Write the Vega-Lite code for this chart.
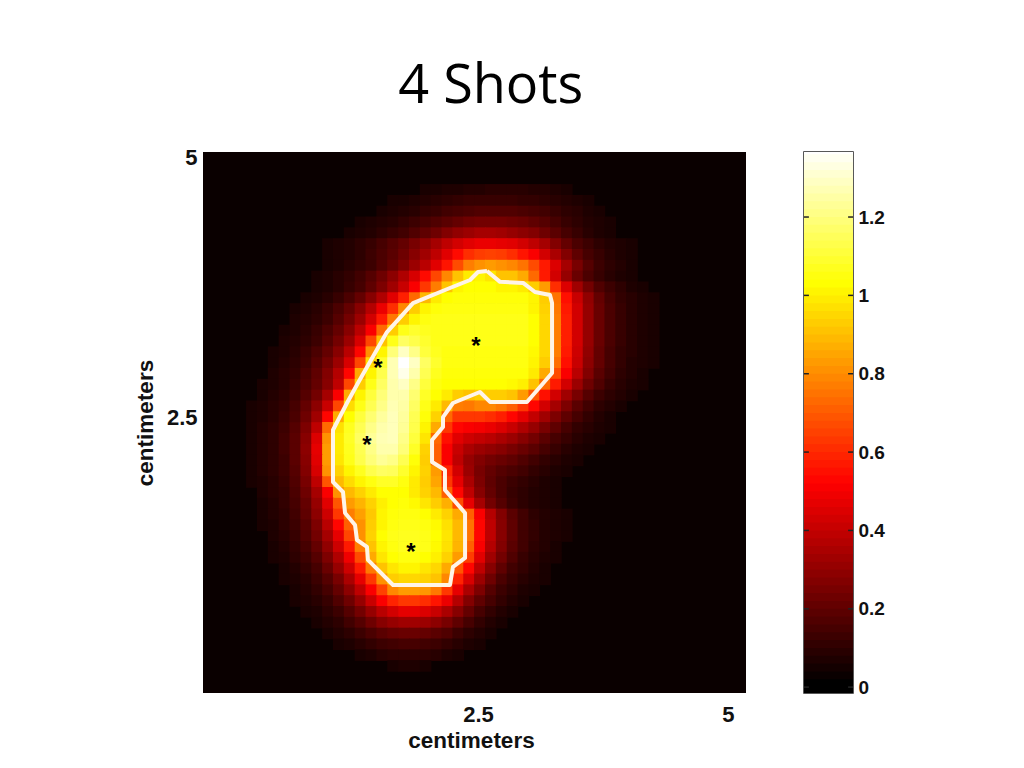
{"$schema":"https://vega.github.io/schema/vega-lite/v6.json","background":"white","padding":{"left":134,"top":59,"right":0,"bottom":0},"title":{"text":"4 Shots","font":"Open Sans","fontSize":54,"fontWeight":"normal","color":"#000","anchor":"middle","offset":33,"dx":-19},"spacing":56,"config":{"view":{"stroke":null}},"hconcat":[{"width":543,"height":541,"view":{"fill":"#0a0000","stroke":null},"encoding":{"x":{"field":"c","type":"quantitative","scale":{"domain":[-0.5,49.5],"nice":false,"zero":false},"axis":{"values":[24.82,47.84],"labelExpr":"datum.value<30?'2.5':'5'","title":"centimeters","grid":false,"domain":false,"ticks":false,"labelFont":"Liberation Sans","labelFontWeight":"bold","labelFontSize":22,"labelColor":"#111","labelPadding":11,"titleFont":"Liberation Sans","titleFontWeight":"bold","titleFontSize":22.5,"titleColor":"#111","titlePadding":4,"titleX":268}},"y":{"field":"r","type":"quantitative","scale":{"domain":[49.5,-0.5],"nice":false,"zero":false},"axis":{"values":[0.05,24],"labelExpr":"datum.value<10?'5':'2.5'","title":"centimeters","grid":false,"domain":false,"ticks":false,"labelFont":"Liberation Sans","labelFontWeight":"bold","labelFontSize":22,"labelColor":"#111","labelPadding":6,"titleFont":"Liberation Sans","titleFontWeight":"bold","titleFontSize":22.5,"titleColor":"#111","titlePadding":9}}},"layer":[{"data":{"values":[
{"c":20,"r":3,"v":0.05},{"c":21,"r":3,"v":0.05},{"c":22,"r":3,"v":0.06},{"c":23,"r":3,"v":0.06},{"c":24,"r":3,"v":0.07},{"c":25,"r":3,"v":0.07},{"c":26,"r":3,"v":0.08},{"c":27,"r":3,"v":0.08},{"c":28,"r":3,"v":0.08},{"c":29,"r":3,"v":0.08},{"c":30,"r":3,"v":0.07},{"c":31,"r":3,"v":0.07},{"c":32,"r":3,"v":0.06},{"c":33,"r":3,"v":0.05},
{"c":17,"r":4,"v":0.05},{"c":18,"r":4,"v":0.05},{"c":19,"r":4,"v":0.06},{"c":20,"r":4,"v":0.07},{"c":21,"r":4,"v":0.08},{"c":22,"r":4,"v":0.09},{"c":23,"r":4,"v":0.1},{"c":24,"r":4,"v":0.11},{"c":25,"r":4,"v":0.11},{"c":26,"r":4,"v":0.11},{"c":27,"r":4,"v":0.11},{"c":28,"r":4,"v":0.11},{"c":29,"r":4,"v":0.1},{"c":30,"r":4,"v":0.1},{"c":31,"r":4,"v":0.09},{"c":32,"r":4,"v":0.08},{"c":33,"r":4,"v":0.07},{"c":34,"r":4,"v":0.06},{"c":35,"r":4,"v":0.05},
{"c":16,"r":5,"v":0.05},{"c":17,"r":5,"v":0.06},{"c":18,"r":5,"v":0.07},{"c":19,"r":5,"v":0.08},{"c":20,"r":5,"v":0.1},{"c":21,"r":5,"v":0.11},{"c":22,"r":5,"v":0.13},{"c":23,"r":5,"v":0.14},{"c":24,"r":5,"v":0.15},{"c":25,"r":5,"v":0.16},{"c":26,"r":5,"v":0.16},{"c":27,"r":5,"v":0.16},{"c":28,"r":5,"v":0.16},{"c":29,"r":5,"v":0.15},{"c":30,"r":5,"v":0.14},{"c":31,"r":5,"v":0.13},{"c":32,"r":5,"v":0.11},{"c":33,"r":5,"v":0.09},{"c":34,"r":5,"v":0.08},{"c":35,"r":5,"v":0.06},{"c":36,"r":5,"v":0.05},
{"c":14,"r":6,"v":0.05},{"c":15,"r":6,"v":0.06},{"c":16,"r":6,"v":0.07},{"c":17,"r":6,"v":0.08},{"c":18,"r":6,"v":0.1},{"c":19,"r":6,"v":0.12},{"c":20,"r":6,"v":0.14},{"c":21,"r":6,"v":0.16},{"c":22,"r":6,"v":0.18},{"c":23,"r":6,"v":0.2},{"c":24,"r":6,"v":0.22},{"c":25,"r":6,"v":0.23},{"c":26,"r":6,"v":0.23},{"c":27,"r":6,"v":0.23},{"c":28,"r":6,"v":0.22},{"c":29,"r":6,"v":0.21},{"c":30,"r":6,"v":0.19},{"c":31,"r":6,"v":0.17},{"c":32,"r":6,"v":0.14},{"c":33,"r":6,"v":0.11},{"c":34,"r":6,"v":0.09},{"c":35,"r":6,"v":0.07},{"c":36,"r":6,"v":0.06},{"c":37,"r":6,"v":0.05},
{"c":13,"r":7,"v":0.05},{"c":14,"r":7,"v":0.06},{"c":15,"r":7,"v":0.07},{"c":16,"r":7,"v":0.09},{"c":17,"r":7,"v":0.11},{"c":18,"r":7,"v":0.13},{"c":19,"r":7,"v":0.16},{"c":20,"r":7,"v":0.19},{"c":21,"r":7,"v":0.22},{"c":22,"r":7,"v":0.26},{"c":23,"r":7,"v":0.29},{"c":24,"r":7,"v":0.31},{"c":25,"r":7,"v":0.33},{"c":26,"r":7,"v":0.33},{"c":27,"r":7,"v":0.32},{"c":28,"r":7,"v":0.3},{"c":29,"r":7,"v":0.28},{"c":30,"r":7,"v":0.26},{"c":31,"r":7,"v":0.22},{"c":32,"r":7,"v":0.18},{"c":33,"r":7,"v":0.14},{"c":34,"r":7,"v":0.11},{"c":35,"r":7,"v":0.08},{"c":36,"r":7,"v":0.06},{"c":37,"r":7,"v":0.05},
{"c":11,"r":8,"v":0.05},{"c":12,"r":8,"v":0.06},{"c":13,"r":8,"v":0.07},{"c":14,"r":8,"v":0.09},{"c":15,"r":8,"v":0.11},{"c":16,"r":8,"v":0.14},{"c":17,"r":8,"v":0.17},{"c":18,"r":8,"v":0.2},{"c":19,"r":8,"v":0.24},{"c":20,"r":8,"v":0.28},{"c":21,"r":8,"v":0.33},{"c":22,"r":8,"v":0.38},{"c":23,"r":8,"v":0.42},{"c":24,"r":8,"v":0.45},{"c":25,"r":8,"v":0.47},{"c":26,"r":8,"v":0.47},{"c":27,"r":8,"v":0.46},{"c":28,"r":8,"v":0.45},{"c":29,"r":8,"v":0.42},{"c":30,"r":8,"v":0.38},{"c":31,"r":8,"v":0.33},{"c":32,"r":8,"v":0.26},{"c":33,"r":8,"v":0.2},{"c":34,"r":8,"v":0.15},{"c":35,"r":8,"v":0.12},{"c":36,"r":8,"v":0.09},{"c":37,"r":8,"v":0.07},{"c":38,"r":8,"v":0.06},{"c":39,"r":8,"v":0.05},
{"c":11,"r":9,"v":0.05},{"c":12,"r":9,"v":0.06},{"c":13,"r":9,"v":0.07},{"c":14,"r":9,"v":0.09},{"c":15,"r":9,"v":0.12},{"c":16,"r":9,"v":0.15},{"c":17,"r":9,"v":0.18},{"c":18,"r":9,"v":0.22},{"c":19,"r":9,"v":0.27},{"c":20,"r":9,"v":0.32},{"c":21,"r":9,"v":0.38},{"c":22,"r":9,"v":0.45},{"c":23,"r":9,"v":0.53},{"c":24,"r":9,"v":0.6},{"c":25,"r":9,"v":0.63},{"c":26,"r":9,"v":0.64},{"c":27,"r":9,"v":0.63},{"c":28,"r":9,"v":0.6},{"c":29,"r":9,"v":0.55},{"c":30,"r":9,"v":0.5},{"c":31,"r":9,"v":0.42},{"c":32,"r":9,"v":0.34},{"c":33,"r":9,"v":0.26},{"c":34,"r":9,"v":0.19},{"c":35,"r":9,"v":0.14},{"c":36,"r":9,"v":0.11},{"c":37,"r":9,"v":0.08},{"c":38,"r":9,"v":0.06},{"c":39,"r":9,"v":0.05},
{"c":11,"r":10,"v":0.05},{"c":12,"r":10,"v":0.06},{"c":13,"r":10,"v":0.08},{"c":14,"r":10,"v":0.1},{"c":15,"r":10,"v":0.12},{"c":16,"r":10,"v":0.16},{"c":17,"r":10,"v":0.2},{"c":18,"r":10,"v":0.25},{"c":19,"r":10,"v":0.31},{"c":20,"r":10,"v":0.37},{"c":21,"r":10,"v":0.45},{"c":22,"r":10,"v":0.55},{"c":23,"r":10,"v":0.66},{"c":24,"r":10,"v":0.76},{"c":25,"r":10,"v":0.8},{"c":26,"r":10,"v":0.82},{"c":27,"r":10,"v":0.8},{"c":28,"r":10,"v":0.78},{"c":29,"r":10,"v":0.74},{"c":30,"r":10,"v":0.66},{"c":31,"r":10,"v":0.56},{"c":32,"r":10,"v":0.44},{"c":33,"r":10,"v":0.33},{"c":34,"r":10,"v":0.24},{"c":35,"r":10,"v":0.17},{"c":36,"r":10,"v":0.12},{"c":37,"r":10,"v":0.09},{"c":38,"r":10,"v":0.07},{"c":39,"r":10,"v":0.05},
{"c":10,"r":11,"v":0.05},{"c":11,"r":11,"v":0.06},{"c":12,"r":11,"v":0.08},{"c":13,"r":11,"v":0.1},{"c":14,"r":11,"v":0.13},{"c":15,"r":11,"v":0.17},{"c":16,"r":11,"v":0.22},{"c":17,"r":11,"v":0.28},{"c":18,"r":11,"v":0.35},{"c":19,"r":11,"v":0.43},{"c":20,"r":11,"v":0.53},{"c":21,"r":11,"v":0.65},{"c":22,"r":11,"v":0.78},{"c":23,"r":11,"v":0.9},{"c":24,"r":11,"v":0.98},{"c":25,"r":11,"v":1},{"c":26,"r":11,"v":0.97},{"c":27,"r":11,"v":0.9},{"c":28,"r":11,"v":0.9},{"c":29,"r":11,"v":0.85},{"c":30,"r":11,"v":0.72},{"c":31,"r":11,"v":0.56},{"c":32,"r":11,"v":0.42},{"c":33,"r":11,"v":0.3},{"c":34,"r":11,"v":0.21},{"c":35,"r":11,"v":0.15},{"c":36,"r":11,"v":0.11},{"c":37,"r":11,"v":0.08},{"c":38,"r":11,"v":0.06},{"c":39,"r":11,"v":0.05},
{"c":10,"r":12,"v":0.05},{"c":11,"r":12,"v":0.06},{"c":12,"r":12,"v":0.08},{"c":13,"r":12,"v":0.11},{"c":14,"r":12,"v":0.14},{"c":15,"r":12,"v":0.19},{"c":16,"r":12,"v":0.25},{"c":17,"r":12,"v":0.32},{"c":18,"r":12,"v":0.4},{"c":19,"r":12,"v":0.5},{"c":20,"r":12,"v":0.62},{"c":21,"r":12,"v":0.76},{"c":22,"r":12,"v":0.9},{"c":23,"r":12,"v":1},{"c":24,"r":12,"v":1.02},{"c":25,"r":12,"v":1.02},{"c":26,"r":12,"v":1.02},{"c":27,"r":12,"v":1},{"c":28,"r":12,"v":1},{"c":29,"r":12,"v":0.98},{"c":30,"r":12,"v":0.92},{"c":31,"r":12,"v":0.82},{"c":32,"r":12,"v":0.6},{"c":33,"r":12,"v":0.44},{"c":34,"r":12,"v":0.32},{"c":35,"r":12,"v":0.23},{"c":36,"r":12,"v":0.16},{"c":37,"r":12,"v":0.12},{"c":38,"r":12,"v":0.09},{"c":39,"r":12,"v":0.06},{"c":40,"r":12,"v":0.05},
{"c":9,"r":13,"v":0.05},{"c":10,"r":13,"v":0.06},{"c":11,"r":13,"v":0.08},{"c":12,"r":13,"v":0.11},{"c":13,"r":13,"v":0.15},{"c":14,"r":13,"v":0.2},{"c":15,"r":13,"v":0.27},{"c":16,"r":13,"v":0.35},{"c":17,"r":13,"v":0.45},{"c":18,"r":13,"v":0.57},{"c":19,"r":13,"v":0.72},{"c":20,"r":13,"v":0.88},{"c":21,"r":13,"v":0.98},{"c":22,"r":13,"v":1.02},{"c":23,"r":13,"v":1.03},{"c":24,"r":13,"v":1.03},{"c":25,"r":13,"v":1.03},{"c":26,"r":13,"v":1.03},{"c":27,"r":13,"v":1.03},{"c":28,"r":13,"v":1.03},{"c":29,"r":13,"v":1.03},{"c":30,"r":13,"v":1},{"c":31,"r":13,"v":0.92},{"c":32,"r":13,"v":0.74},{"c":33,"r":13,"v":0.54},{"c":34,"r":13,"v":0.4},{"c":35,"r":13,"v":0.29},{"c":36,"r":13,"v":0.2},{"c":37,"r":13,"v":0.14},{"c":38,"r":13,"v":0.1},{"c":39,"r":13,"v":0.08},{"c":40,"r":13,"v":0.06},{"c":41,"r":13,"v":0.05},
{"c":8,"r":14,"v":0.05},{"c":9,"r":14,"v":0.06},{"c":10,"r":14,"v":0.08},{"c":11,"r":14,"v":0.11},{"c":12,"r":14,"v":0.15},{"c":13,"r":14,"v":0.2},{"c":14,"r":14,"v":0.27},{"c":15,"r":14,"v":0.36},{"c":16,"r":14,"v":0.47},{"c":17,"r":14,"v":0.6},{"c":18,"r":14,"v":0.78},{"c":19,"r":14,"v":0.92},{"c":20,"r":14,"v":1},{"c":21,"r":14,"v":1.03},{"c":22,"r":14,"v":1.04},{"c":23,"r":14,"v":1.04},{"c":24,"r":14,"v":1.04},{"c":25,"r":14,"v":1.04},{"c":26,"r":14,"v":1.04},{"c":27,"r":14,"v":1.04},{"c":28,"r":14,"v":1.04},{"c":29,"r":14,"v":1.04},{"c":30,"r":14,"v":1},{"c":31,"r":14,"v":0.93},{"c":32,"r":14,"v":0.75},{"c":33,"r":14,"v":0.56},{"c":34,"r":14,"v":0.42},{"c":35,"r":14,"v":0.3},{"c":36,"r":14,"v":0.21},{"c":37,"r":14,"v":0.15},{"c":38,"r":14,"v":0.11},{"c":39,"r":14,"v":0.08},{"c":40,"r":14,"v":0.06},{"c":41,"r":14,"v":0.05},
{"c":8,"r":15,"v":0.06},{"c":9,"r":15,"v":0.07},{"c":10,"r":15,"v":0.09},{"c":11,"r":15,"v":0.12},{"c":12,"r":15,"v":0.17},{"c":13,"r":15,"v":0.23},{"c":14,"r":15,"v":0.31},{"c":15,"r":15,"v":0.42},{"c":16,"r":15,"v":0.56},{"c":17,"r":15,"v":0.75},{"c":18,"r":15,"v":0.92},{"c":19,"r":15,"v":1},{"c":20,"r":15,"v":1.04},{"c":21,"r":15,"v":1.05},{"c":22,"r":15,"v":1.05},{"c":23,"r":15,"v":1.05},{"c":24,"r":15,"v":1.05},{"c":25,"r":15,"v":1.05},{"c":26,"r":15,"v":1.05},{"c":27,"r":15,"v":1.05},{"c":28,"r":15,"v":1.05},{"c":29,"r":15,"v":1.05},{"c":30,"r":15,"v":1.02},{"c":31,"r":15,"v":0.94},{"c":32,"r":15,"v":0.76},{"c":33,"r":15,"v":0.57},{"c":34,"r":15,"v":0.42},{"c":35,"r":15,"v":0.3},{"c":36,"r":15,"v":0.21},{"c":37,"r":15,"v":0.15},{"c":38,"r":15,"v":0.11},{"c":39,"r":15,"v":0.08},{"c":40,"r":15,"v":0.06},{"c":41,"r":15,"v":0.05},
{"c":7,"r":16,"v":0.05},{"c":8,"r":16,"v":0.06},{"c":9,"r":16,"v":0.08},{"c":10,"r":16,"v":0.11},{"c":11,"r":16,"v":0.15},{"c":12,"r":16,"v":0.2},{"c":13,"r":16,"v":0.27},{"c":14,"r":16,"v":0.37},{"c":15,"r":16,"v":0.5},{"c":16,"r":16,"v":0.72},{"c":17,"r":16,"v":0.92},{"c":18,"r":16,"v":1.05},{"c":19,"r":16,"v":1.08},{"c":20,"r":16,"v":1.06},{"c":21,"r":16,"v":1.05},{"c":22,"r":16,"v":1.05},{"c":23,"r":16,"v":1.05},{"c":24,"r":16,"v":1.05},{"c":25,"r":16,"v":1.05},{"c":26,"r":16,"v":1.05},{"c":27,"r":16,"v":1.05},{"c":28,"r":16,"v":1.05},{"c":29,"r":16,"v":1.05},{"c":30,"r":16,"v":1.02},{"c":31,"r":16,"v":0.94},{"c":32,"r":16,"v":0.76},{"c":33,"r":16,"v":0.57},{"c":34,"r":16,"v":0.42},{"c":35,"r":16,"v":0.3},{"c":36,"r":16,"v":0.21},{"c":37,"r":16,"v":0.15},{"c":38,"r":16,"v":0.11},{"c":39,"r":16,"v":0.08},{"c":40,"r":16,"v":0.06},{"c":41,"r":16,"v":0.05},
{"c":7,"r":17,"v":0.06},{"c":8,"r":17,"v":0.07},{"c":9,"r":17,"v":0.09},{"c":10,"r":17,"v":0.12},{"c":11,"r":17,"v":0.17},{"c":12,"r":17,"v":0.23},{"c":13,"r":17,"v":0.31},{"c":14,"r":17,"v":0.43},{"c":15,"r":17,"v":0.65},{"c":16,"r":17,"v":0.9},{"c":17,"r":17,"v":1.05},{"c":18,"r":17,"v":1.15},{"c":19,"r":17,"v":1.12},{"c":20,"r":17,"v":1.08},{"c":21,"r":17,"v":1.05},{"c":22,"r":17,"v":1.05},{"c":23,"r":17,"v":1.05},{"c":24,"r":17,"v":1.05},{"c":25,"r":17,"v":1.05},{"c":26,"r":17,"v":1.05},{"c":27,"r":17,"v":1.05},{"c":28,"r":17,"v":1.05},{"c":29,"r":17,"v":1.05},{"c":30,"r":17,"v":1.02},{"c":31,"r":17,"v":0.94},{"c":32,"r":17,"v":0.76},{"c":33,"r":17,"v":0.57},{"c":34,"r":17,"v":0.42},{"c":35,"r":17,"v":0.3},{"c":36,"r":17,"v":0.21},{"c":37,"r":17,"v":0.15},{"c":38,"r":17,"v":0.11},{"c":39,"r":17,"v":0.08},{"c":40,"r":17,"v":0.06},{"c":41,"r":17,"v":0.05},
{"c":6,"r":18,"v":0.05},{"c":7,"r":18,"v":0.06},{"c":8,"r":18,"v":0.08},{"c":9,"r":18,"v":0.11},{"c":10,"r":18,"v":0.15},{"c":11,"r":18,"v":0.2},{"c":12,"r":18,"v":0.27},{"c":13,"r":18,"v":0.37},{"c":14,"r":18,"v":0.52},{"c":15,"r":18,"v":0.8},{"c":16,"r":18,"v":1},{"c":17,"r":18,"v":1.18},{"c":18,"r":18,"v":1.28},{"c":19,"r":18,"v":1.2},{"c":20,"r":18,"v":1.1},{"c":21,"r":18,"v":1.06},{"c":22,"r":18,"v":1.04},{"c":23,"r":18,"v":1.04},{"c":24,"r":18,"v":1.04},{"c":25,"r":18,"v":1.04},{"c":26,"r":18,"v":1.04},{"c":27,"r":18,"v":1.04},{"c":28,"r":18,"v":1.04},{"c":29,"r":18,"v":1.04},{"c":30,"r":18,"v":1.01},{"c":31,"r":18,"v":0.94},{"c":32,"r":18,"v":0.76},{"c":33,"r":18,"v":0.56},{"c":34,"r":18,"v":0.41},{"c":35,"r":18,"v":0.29},{"c":36,"r":18,"v":0.2},{"c":37,"r":18,"v":0.14},{"c":38,"r":18,"v":0.1},{"c":39,"r":18,"v":0.08},{"c":40,"r":18,"v":0.06},{"c":41,"r":18,"v":0.05},
{"c":6,"r":19,"v":0.05},{"c":7,"r":19,"v":0.07},{"c":8,"r":19,"v":0.09},{"c":9,"r":19,"v":0.12},{"c":10,"r":19,"v":0.17},{"c":11,"r":19,"v":0.23},{"c":12,"r":19,"v":0.31},{"c":13,"r":19,"v":0.43},{"c":14,"r":19,"v":0.65},{"c":15,"r":19,"v":0.95},{"c":16,"r":19,"v":1.08},{"c":17,"r":19,"v":1.26},{"c":18,"r":19,"v":1.36},{"c":19,"r":19,"v":1.28},{"c":20,"r":19,"v":1.15},{"c":21,"r":19,"v":1.08},{"c":22,"r":19,"v":1.04},{"c":23,"r":19,"v":1.04},{"c":24,"r":19,"v":1.04},{"c":25,"r":19,"v":1.04},{"c":26,"r":19,"v":1.04},{"c":27,"r":19,"v":1.04},{"c":28,"r":19,"v":1.04},{"c":29,"r":19,"v":1.04},{"c":30,"r":19,"v":1},{"c":31,"r":19,"v":0.92},{"c":32,"r":19,"v":0.73},{"c":33,"r":19,"v":0.54},{"c":34,"r":19,"v":0.4},{"c":35,"r":19,"v":0.28},{"c":36,"r":19,"v":0.2},{"c":37,"r":19,"v":0.14},{"c":38,"r":19,"v":0.1},{"c":39,"r":19,"v":0.07},{"c":40,"r":19,"v":0.06},{"c":41,"r":19,"v":0.05},
{"c":6,"r":20,"v":0.06},{"c":7,"r":20,"v":0.08},{"c":8,"r":20,"v":0.1},{"c":9,"r":20,"v":0.14},{"c":10,"r":20,"v":0.19},{"c":11,"r":20,"v":0.26},{"c":12,"r":20,"v":0.36},{"c":13,"r":20,"v":0.52},{"c":14,"r":20,"v":0.85},{"c":15,"r":20,"v":1},{"c":16,"r":20,"v":1.12},{"c":17,"r":20,"v":1.26},{"c":18,"r":20,"v":1.33},{"c":19,"r":20,"v":1.25},{"c":20,"r":20,"v":1.13},{"c":21,"r":20,"v":1.06},{"c":22,"r":20,"v":1.03},{"c":23,"r":20,"v":1.03},{"c":24,"r":20,"v":1.03},{"c":25,"r":20,"v":1.03},{"c":26,"r":20,"v":1.03},{"c":27,"r":20,"v":1.03},{"c":28,"r":20,"v":1.03},{"c":29,"r":20,"v":1.03},{"c":30,"r":20,"v":0.98},{"c":31,"r":20,"v":0.85},{"c":32,"r":20,"v":0.66},{"c":33,"r":20,"v":0.5},{"c":34,"r":20,"v":0.37},{"c":35,"r":20,"v":0.26},{"c":36,"r":20,"v":0.18},{"c":37,"r":20,"v":0.13},{"c":38,"r":20,"v":0.09},{"c":39,"r":20,"v":0.07},{"c":40,"r":20,"v":0.05},
{"c":5,"r":21,"v":0.05},{"c":6,"r":21,"v":0.06},{"c":7,"r":21,"v":0.08},{"c":8,"r":21,"v":0.11},{"c":9,"r":21,"v":0.15},{"c":10,"r":21,"v":0.2},{"c":11,"r":21,"v":0.27},{"c":12,"r":21,"v":0.38},{"c":13,"r":21,"v":0.65},{"c":14,"r":21,"v":0.92},{"c":15,"r":21,"v":1.05},{"c":16,"r":21,"v":1.15},{"c":17,"r":21,"v":1.25},{"c":18,"r":21,"v":1.28},{"c":19,"r":21,"v":1.2},{"c":20,"r":21,"v":1.1},{"c":21,"r":21,"v":1.04},{"c":22,"r":21,"v":1.02},{"c":23,"r":21,"v":1.02},{"c":24,"r":21,"v":1.02},{"c":25,"r":21,"v":1.02},{"c":26,"r":21,"v":1.02},{"c":27,"r":21,"v":1.02},{"c":28,"r":21,"v":1.01},{"c":29,"r":21,"v":0.99},{"c":30,"r":21,"v":0.9},{"c":31,"r":21,"v":0.72},{"c":32,"r":21,"v":0.56},{"c":33,"r":21,"v":0.42},{"c":34,"r":21,"v":0.31},{"c":35,"r":21,"v":0.22},{"c":36,"r":21,"v":0.16},{"c":37,"r":21,"v":0.11},{"c":38,"r":21,"v":0.08},{"c":39,"r":21,"v":0.06},{"c":40,"r":21,"v":0.05},
{"c":5,"r":22,"v":0.05},{"c":6,"r":22,"v":0.07},{"c":7,"r":22,"v":0.09},{"c":8,"r":22,"v":0.12},{"c":9,"r":22,"v":0.17},{"c":10,"r":22,"v":0.23},{"c":11,"r":22,"v":0.33},{"c":12,"r":22,"v":0.5},{"c":13,"r":22,"v":0.85},{"c":14,"r":22,"v":1},{"c":15,"r":22,"v":1.1},{"c":16,"r":22,"v":1.18},{"c":17,"r":22,"v":1.25},{"c":18,"r":22,"v":1.25},{"c":19,"r":22,"v":1.17},{"c":20,"r":22,"v":1.07},{"c":21,"r":22,"v":1.02},{"c":22,"r":22,"v":0.98},{"c":23,"r":22,"v":0.92},{"c":24,"r":22,"v":0.9},{"c":25,"r":22,"v":0.92},{"c":26,"r":22,"v":0.92},{"c":27,"r":22,"v":0.92},{"c":28,"r":22,"v":0.9},{"c":29,"r":22,"v":0.82},{"c":30,"r":22,"v":0.68},{"c":31,"r":22,"v":0.54},{"c":32,"r":22,"v":0.42},{"c":33,"r":22,"v":0.32},{"c":34,"r":22,"v":0.24},{"c":35,"r":22,"v":0.17},{"c":36,"r":22,"v":0.12},{"c":37,"r":22,"v":0.09},{"c":38,"r":22,"v":0.07},{"c":39,"r":22,"v":0.05},
{"c":4,"r":23,"v":0.05},{"c":5,"r":23,"v":0.06},{"c":6,"r":23,"v":0.08},{"c":7,"r":23,"v":0.1},{"c":8,"r":23,"v":0.14},{"c":9,"r":23,"v":0.2},{"c":10,"r":23,"v":0.28},{"c":11,"r":23,"v":0.4},{"c":12,"r":23,"v":0.65},{"c":13,"r":23,"v":0.95},{"c":14,"r":23,"v":1.05},{"c":15,"r":23,"v":1.13},{"c":16,"r":23,"v":1.2},{"c":17,"r":23,"v":1.26},{"c":18,"r":23,"v":1.24},{"c":19,"r":23,"v":1.15},{"c":20,"r":23,"v":1.05},{"c":21,"r":23,"v":0.98},{"c":22,"r":23,"v":0.88},{"c":23,"r":23,"v":0.76},{"c":24,"r":23,"v":0.75},{"c":25,"r":23,"v":0.78},{"c":26,"r":23,"v":0.78},{"c":27,"r":23,"v":0.75},{"c":28,"r":23,"v":0.7},{"c":29,"r":23,"v":0.62},{"c":30,"r":23,"v":0.52},{"c":31,"r":23,"v":0.42},{"c":32,"r":23,"v":0.33},{"c":33,"r":23,"v":0.25},{"c":34,"r":23,"v":0.18},{"c":35,"r":23,"v":0.13},{"c":36,"r":23,"v":0.09},{"c":37,"r":23,"v":0.07},{"c":38,"r":23,"v":0.05},
{"c":4,"r":24,"v":0.05},{"c":5,"r":24,"v":0.06},{"c":6,"r":24,"v":0.08},{"c":7,"r":24,"v":0.11},{"c":8,"r":24,"v":0.15},{"c":9,"r":24,"v":0.22},{"c":10,"r":24,"v":0.32},{"c":11,"r":24,"v":0.52},{"c":12,"r":24,"v":0.85},{"c":13,"r":24,"v":1.02},{"c":14,"r":24,"v":1.1},{"c":15,"r":24,"v":1.17},{"c":16,"r":24,"v":1.23},{"c":17,"r":24,"v":1.27},{"c":18,"r":24,"v":1.23},{"c":19,"r":24,"v":1.13},{"c":20,"r":24,"v":1.03},{"c":21,"r":24,"v":0.93},{"c":22,"r":24,"v":0.72},{"c":23,"r":24,"v":0.62},{"c":24,"r":24,"v":0.62},{"c":25,"r":24,"v":0.62},{"c":26,"r":24,"v":0.6},{"c":27,"r":24,"v":0.57},{"c":28,"r":24,"v":0.52},{"c":29,"r":24,"v":0.46},{"c":30,"r":24,"v":0.39},{"c":31,"r":24,"v":0.32},{"c":32,"r":24,"v":0.25},{"c":33,"r":24,"v":0.19},{"c":34,"r":24,"v":0.14},{"c":35,"r":24,"v":0.1},{"c":36,"r":24,"v":0.07},{"c":37,"r":24,"v":0.05},
{"c":4,"r":25,"v":0.05},{"c":5,"r":25,"v":0.07},{"c":6,"r":25,"v":0.09},{"c":7,"r":25,"v":0.12},{"c":8,"r":25,"v":0.17},{"c":9,"r":25,"v":0.25},{"c":10,"r":25,"v":0.38},{"c":11,"r":25,"v":0.72},{"c":12,"r":25,"v":0.96},{"c":13,"r":25,"v":1.06},{"c":14,"r":25,"v":1.13},{"c":15,"r":25,"v":1.2},{"c":16,"r":25,"v":1.25},{"c":17,"r":25,"v":1.27},{"c":18,"r":25,"v":1.22},{"c":19,"r":25,"v":1.12},{"c":20,"r":25,"v":1},{"c":21,"r":25,"v":0.85},{"c":22,"r":25,"v":0.62},{"c":23,"r":25,"v":0.52},{"c":24,"r":25,"v":0.5},{"c":25,"r":25,"v":0.49},{"c":26,"r":25,"v":0.47},{"c":27,"r":25,"v":0.44},{"c":28,"r":25,"v":0.4},{"c":29,"r":25,"v":0.35},{"c":30,"r":25,"v":0.3},{"c":31,"r":25,"v":0.24},{"c":32,"r":25,"v":0.19},{"c":33,"r":25,"v":0.14},{"c":34,"r":25,"v":0.1},{"c":35,"r":25,"v":0.08},{"c":36,"r":25,"v":0.06},{"c":37,"r":25,"v":0.05},
{"c":4,"r":26,"v":0.05},{"c":5,"r":26,"v":0.07},{"c":6,"r":26,"v":0.09},{"c":7,"r":26,"v":0.13},{"c":8,"r":26,"v":0.18},{"c":9,"r":26,"v":0.27},{"c":10,"r":26,"v":0.44},{"c":11,"r":26,"v":0.8},{"c":12,"r":26,"v":0.98},{"c":13,"r":26,"v":1.07},{"c":14,"r":26,"v":1.15},{"c":15,"r":26,"v":1.22},{"c":16,"r":26,"v":1.26},{"c":17,"r":26,"v":1.27},{"c":18,"r":26,"v":1.2},{"c":19,"r":26,"v":1.1},{"c":20,"r":26,"v":0.97},{"c":21,"r":26,"v":0.72},{"c":22,"r":26,"v":0.54},{"c":23,"r":26,"v":0.45},{"c":24,"r":26,"v":0.41},{"c":25,"r":26,"v":0.39},{"c":26,"r":26,"v":0.37},{"c":27,"r":26,"v":0.34},{"c":28,"r":26,"v":0.31},{"c":29,"r":26,"v":0.27},{"c":30,"r":26,"v":0.23},{"c":31,"r":26,"v":0.18},{"c":32,"r":26,"v":0.14},{"c":33,"r":26,"v":0.11},{"c":34,"r":26,"v":0.08},{"c":35,"r":26,"v":0.06},{"c":36,"r":26,"v":0.05},
{"c":4,"r":27,"v":0.05},{"c":5,"r":27,"v":0.07},{"c":6,"r":27,"v":0.09},{"c":7,"r":27,"v":0.13},{"c":8,"r":27,"v":0.18},{"c":9,"r":27,"v":0.28},{"c":10,"r":27,"v":0.46},{"c":11,"r":27,"v":0.82},{"c":12,"r":27,"v":0.98},{"c":13,"r":27,"v":1.06},{"c":14,"r":27,"v":1.13},{"c":15,"r":27,"v":1.2},{"c":16,"r":27,"v":1.25},{"c":17,"r":27,"v":1.25},{"c":18,"r":27,"v":1.18},{"c":19,"r":27,"v":1.07},{"c":20,"r":27,"v":0.93},{"c":21,"r":27,"v":0.7},{"c":22,"r":27,"v":0.5},{"c":23,"r":27,"v":0.4},{"c":24,"r":27,"v":0.34},{"c":25,"r":27,"v":0.31},{"c":26,"r":27,"v":0.29},{"c":27,"r":27,"v":0.27},{"c":28,"r":27,"v":0.24},{"c":29,"r":27,"v":0.21},{"c":30,"r":27,"v":0.18},{"c":31,"r":27,"v":0.14},{"c":32,"r":27,"v":0.11},{"c":33,"r":27,"v":0.08},{"c":34,"r":27,"v":0.06},{"c":35,"r":27,"v":0.05},
{"c":4,"r":28,"v":0.05},{"c":5,"r":28,"v":0.07},{"c":6,"r":28,"v":0.09},{"c":7,"r":28,"v":0.12},{"c":8,"r":28,"v":0.18},{"c":9,"r":28,"v":0.27},{"c":10,"r":28,"v":0.45},{"c":11,"r":28,"v":0.82},{"c":12,"r":28,"v":0.97},{"c":13,"r":28,"v":1.05},{"c":14,"r":28,"v":1.12},{"c":15,"r":28,"v":1.18},{"c":16,"r":28,"v":1.22},{"c":17,"r":28,"v":1.2},{"c":18,"r":28,"v":1.13},{"c":19,"r":28,"v":1.03},{"c":20,"r":28,"v":0.92},{"c":21,"r":28,"v":0.7},{"c":22,"r":28,"v":0.5},{"c":23,"r":28,"v":0.38},{"c":24,"r":28,"v":0.3},{"c":25,"r":28,"v":0.26},{"c":26,"r":28,"v":0.23},{"c":27,"r":28,"v":0.21},{"c":28,"r":28,"v":0.19},{"c":29,"r":28,"v":0.16},{"c":30,"r":28,"v":0.13},{"c":31,"r":28,"v":0.1},{"c":32,"r":28,"v":0.08},{"c":33,"r":28,"v":0.06},{"c":34,"r":28,"v":0.05},
{"c":4,"r":29,"v":0.05},{"c":5,"r":29,"v":0.07},{"c":6,"r":29,"v":0.09},{"c":7,"r":29,"v":0.12},{"c":8,"r":29,"v":0.17},{"c":9,"r":29,"v":0.26},{"c":10,"r":29,"v":0.43},{"c":11,"r":29,"v":0.8},{"c":12,"r":29,"v":0.93},{"c":13,"r":29,"v":1},{"c":14,"r":29,"v":1.06},{"c":15,"r":29,"v":1.12},{"c":16,"r":29,"v":1.15},{"c":17,"r":29,"v":1.14},{"c":18,"r":29,"v":1.08},{"c":19,"r":29,"v":1},{"c":20,"r":29,"v":0.93},{"c":21,"r":29,"v":0.82},{"c":22,"r":29,"v":0.58},{"c":23,"r":29,"v":0.42},{"c":24,"r":29,"v":0.31},{"c":25,"r":29,"v":0.24},{"c":26,"r":29,"v":0.2},{"c":27,"r":29,"v":0.17},{"c":28,"r":29,"v":0.15},{"c":29,"r":29,"v":0.13},{"c":30,"r":29,"v":0.1},{"c":31,"r":29,"v":0.08},{"c":32,"r":29,"v":0.06},{"c":33,"r":29,"v":0.05},
{"c":4,"r":30,"v":0.05},{"c":5,"r":30,"v":0.06},{"c":6,"r":30,"v":0.08},{"c":7,"r":30,"v":0.11},{"c":8,"r":30,"v":0.16},{"c":9,"r":30,"v":0.24},{"c":10,"r":30,"v":0.38},{"c":11,"r":30,"v":0.68},{"c":12,"r":30,"v":0.88},{"c":13,"r":30,"v":0.95},{"c":14,"r":30,"v":1},{"c":15,"r":30,"v":1.04},{"c":16,"r":30,"v":1.07},{"c":17,"r":30,"v":1.07},{"c":18,"r":30,"v":1.04},{"c":19,"r":30,"v":0.98},{"c":20,"r":30,"v":0.92},{"c":21,"r":30,"v":0.84},{"c":22,"r":30,"v":0.62},{"c":23,"r":30,"v":0.46},{"c":24,"r":30,"v":0.34},{"c":25,"r":30,"v":0.25},{"c":26,"r":30,"v":0.19},{"c":27,"r":30,"v":0.15},{"c":28,"r":30,"v":0.12},{"c":29,"r":30,"v":0.1},{"c":30,"r":30,"v":0.08},{"c":31,"r":30,"v":0.06},{"c":32,"r":30,"v":0.05},
{"c":5,"r":31,"v":0.06},{"c":6,"r":31,"v":0.08},{"c":7,"r":31,"v":0.1},{"c":8,"r":31,"v":0.15},{"c":9,"r":31,"v":0.22},{"c":10,"r":31,"v":0.33},{"c":11,"r":31,"v":0.5},{"c":12,"r":31,"v":0.8},{"c":13,"r":31,"v":0.88},{"c":14,"r":31,"v":0.93},{"c":15,"r":31,"v":0.98},{"c":16,"r":31,"v":1.02},{"c":17,"r":31,"v":1.02},{"c":18,"r":31,"v":1.02},{"c":19,"r":31,"v":0.98},{"c":20,"r":31,"v":0.93},{"c":21,"r":31,"v":0.88},{"c":22,"r":31,"v":0.7},{"c":23,"r":31,"v":0.52},{"c":24,"r":31,"v":0.38},{"c":25,"r":31,"v":0.27},{"c":26,"r":31,"v":0.2},{"c":27,"r":31,"v":0.15},{"c":28,"r":31,"v":0.11},{"c":29,"r":31,"v":0.09},{"c":30,"r":31,"v":0.07},{"c":31,"r":31,"v":0.06},{"c":32,"r":31,"v":0.05},
{"c":5,"r":32,"v":0.05},{"c":6,"r":32,"v":0.07},{"c":7,"r":32,"v":0.1},{"c":8,"r":32,"v":0.14},{"c":9,"r":32,"v":0.2},{"c":10,"r":32,"v":0.3},{"c":11,"r":32,"v":0.45},{"c":12,"r":32,"v":0.68},{"c":13,"r":32,"v":0.82},{"c":14,"r":32,"v":0.87},{"c":15,"r":32,"v":0.93},{"c":16,"r":32,"v":0.99},{"c":17,"r":32,"v":1.02},{"c":18,"r":32,"v":1.03},{"c":19,"r":32,"v":1.01},{"c":20,"r":32,"v":0.97},{"c":21,"r":32,"v":0.92},{"c":22,"r":32,"v":0.86},{"c":23,"r":32,"v":0.66},{"c":24,"r":32,"v":0.46},{"c":25,"r":32,"v":0.33},{"c":26,"r":32,"v":0.23},{"c":27,"r":32,"v":0.17},{"c":28,"r":32,"v":0.12},{"c":29,"r":32,"v":0.09},{"c":30,"r":32,"v":0.07},{"c":31,"r":32,"v":0.06},{"c":32,"r":32,"v":0.05},
{"c":5,"r":33,"v":0.05},{"c":6,"r":33,"v":0.07},{"c":7,"r":33,"v":0.09},{"c":8,"r":33,"v":0.13},{"c":9,"r":33,"v":0.19},{"c":10,"r":33,"v":0.28},{"c":11,"r":33,"v":0.41},{"c":12,"r":33,"v":0.62},{"c":13,"r":33,"v":0.76},{"c":14,"r":33,"v":0.83},{"c":15,"r":33,"v":0.91},{"c":16,"r":33,"v":1},{"c":17,"r":33,"v":1.03},{"c":18,"r":33,"v":1.04},{"c":19,"r":33,"v":1.04},{"c":20,"r":33,"v":1.02},{"c":21,"r":33,"v":0.98},{"c":22,"r":33,"v":0.93},{"c":23,"r":33,"v":0.85},{"c":24,"r":33,"v":0.7},{"c":25,"r":33,"v":0.5},{"c":26,"r":33,"v":0.36},{"c":27,"r":33,"v":0.26},{"c":28,"r":33,"v":0.18},{"c":29,"r":33,"v":0.13},{"c":30,"r":33,"v":0.09},{"c":31,"r":33,"v":0.07},{"c":32,"r":33,"v":0.06},{"c":33,"r":33,"v":0.05},
{"c":5,"r":34,"v":0.05},{"c":6,"r":34,"v":0.06},{"c":7,"r":34,"v":0.09},{"c":8,"r":34,"v":0.12},{"c":9,"r":34,"v":0.17},{"c":10,"r":34,"v":0.25},{"c":11,"r":34,"v":0.37},{"c":12,"r":34,"v":0.52},{"c":13,"r":34,"v":0.7},{"c":14,"r":34,"v":0.8},{"c":15,"r":34,"v":0.92},{"c":16,"r":34,"v":1},{"c":17,"r":34,"v":1.04},{"c":18,"r":34,"v":1.05},{"c":19,"r":34,"v":1.05},{"c":20,"r":34,"v":1.04},{"c":21,"r":34,"v":1.01},{"c":22,"r":34,"v":0.96},{"c":23,"r":34,"v":0.88},{"c":24,"r":34,"v":0.74},{"c":25,"r":34,"v":0.52},{"c":26,"r":34,"v":0.38},{"c":27,"r":34,"v":0.27},{"c":28,"r":34,"v":0.19},{"c":29,"r":34,"v":0.13},{"c":30,"r":34,"v":0.1},{"c":31,"r":34,"v":0.07},{"c":32,"r":34,"v":0.06},{"c":33,"r":34,"v":0.05},
{"c":6,"r":35,"v":0.06},{"c":7,"r":35,"v":0.08},{"c":8,"r":35,"v":0.11},{"c":9,"r":35,"v":0.16},{"c":10,"r":35,"v":0.23},{"c":11,"r":35,"v":0.33},{"c":12,"r":35,"v":0.46},{"c":13,"r":35,"v":0.65},{"c":14,"r":35,"v":0.8},{"c":15,"r":35,"v":0.93},{"c":16,"r":35,"v":1.02},{"c":17,"r":35,"v":1.05},{"c":18,"r":35,"v":1.06},{"c":19,"r":35,"v":1.06},{"c":20,"r":35,"v":1.05},{"c":21,"r":35,"v":1.02},{"c":22,"r":35,"v":0.97},{"c":23,"r":35,"v":0.88},{"c":24,"r":35,"v":0.74},{"c":25,"r":35,"v":0.52},{"c":26,"r":35,"v":0.38},{"c":27,"r":35,"v":0.27},{"c":28,"r":35,"v":0.19},{"c":29,"r":35,"v":0.13},{"c":30,"r":35,"v":0.1},{"c":31,"r":35,"v":0.07},{"c":32,"r":35,"v":0.06},{"c":33,"r":35,"v":0.05},
{"c":6,"r":36,"v":0.05},{"c":7,"r":36,"v":0.07},{"c":8,"r":36,"v":0.1},{"c":9,"r":36,"v":0.14},{"c":10,"r":36,"v":0.2},{"c":11,"r":36,"v":0.29},{"c":12,"r":36,"v":0.41},{"c":13,"r":36,"v":0.56},{"c":14,"r":36,"v":0.76},{"c":15,"r":36,"v":0.9},{"c":16,"r":36,"v":1},{"c":17,"r":36,"v":1.04},{"c":18,"r":36,"v":1.06},{"c":19,"r":36,"v":1.06},{"c":20,"r":36,"v":1.05},{"c":21,"r":36,"v":1.01},{"c":22,"r":36,"v":0.96},{"c":23,"r":36,"v":0.87},{"c":24,"r":36,"v":0.7},{"c":25,"r":36,"v":0.5},{"c":26,"r":36,"v":0.36},{"c":27,"r":36,"v":0.26},{"c":28,"r":36,"v":0.18},{"c":29,"r":36,"v":0.13},{"c":30,"r":36,"v":0.09},{"c":31,"r":36,"v":0.07},{"c":32,"r":36,"v":0.05},
{"c":6,"r":37,"v":0.05},{"c":7,"r":37,"v":0.06},{"c":8,"r":37,"v":0.09},{"c":9,"r":37,"v":0.12},{"c":10,"r":37,"v":0.17},{"c":11,"r":37,"v":0.25},{"c":12,"r":37,"v":0.35},{"c":13,"r":37,"v":0.48},{"c":14,"r":37,"v":0.66},{"c":15,"r":37,"v":0.85},{"c":16,"r":37,"v":0.97},{"c":17,"r":37,"v":1.02},{"c":18,"r":37,"v":1.04},{"c":19,"r":37,"v":1.04},{"c":20,"r":37,"v":1.02},{"c":21,"r":37,"v":0.99},{"c":22,"r":37,"v":0.93},{"c":23,"r":37,"v":0.82},{"c":24,"r":37,"v":0.63},{"c":25,"r":37,"v":0.45},{"c":26,"r":37,"v":0.32},{"c":27,"r":37,"v":0.23},{"c":28,"r":37,"v":0.16},{"c":29,"r":37,"v":0.11},{"c":30,"r":37,"v":0.08},{"c":31,"r":37,"v":0.06},{"c":32,"r":37,"v":0.05},
{"c":7,"r":38,"v":0.05},{"c":8,"r":38,"v":0.07},{"c":9,"r":38,"v":0.1},{"c":10,"r":38,"v":0.14},{"c":11,"r":38,"v":0.21},{"c":12,"r":38,"v":0.3},{"c":13,"r":38,"v":0.41},{"c":14,"r":38,"v":0.56},{"c":15,"r":38,"v":0.75},{"c":16,"r":38,"v":0.9},{"c":17,"r":38,"v":0.97},{"c":18,"r":38,"v":1},{"c":19,"r":38,"v":1},{"c":20,"r":38,"v":0.97},{"c":21,"r":38,"v":0.94},{"c":22,"r":38,"v":0.85},{"c":23,"r":38,"v":0.68},{"c":24,"r":38,"v":0.52},{"c":25,"r":38,"v":0.38},{"c":26,"r":38,"v":0.27},{"c":27,"r":38,"v":0.19},{"c":28,"r":38,"v":0.13},{"c":29,"r":38,"v":0.1},{"c":30,"r":38,"v":0.07},{"c":31,"r":38,"v":0.05},
{"c":7,"r":39,"v":0.05},{"c":8,"r":39,"v":0.06},{"c":9,"r":39,"v":0.08},{"c":10,"r":39,"v":0.12},{"c":11,"r":39,"v":0.17},{"c":12,"r":39,"v":0.24},{"c":13,"r":39,"v":0.34},{"c":14,"r":39,"v":0.46},{"c":15,"r":39,"v":0.62},{"c":16,"r":39,"v":0.8},{"c":17,"r":39,"v":0.92},{"c":18,"r":39,"v":0.94},{"c":19,"r":39,"v":0.94},{"c":20,"r":39,"v":0.93},{"c":21,"r":39,"v":0.9},{"c":22,"r":39,"v":0.78},{"c":23,"r":39,"v":0.58},{"c":24,"r":39,"v":0.43},{"c":25,"r":39,"v":0.31},{"c":26,"r":39,"v":0.22},{"c":27,"r":39,"v":0.15},{"c":28,"r":39,"v":0.11},{"c":29,"r":39,"v":0.08},{"c":30,"r":39,"v":0.06},{"c":31,"r":39,"v":0.05},
{"c":8,"r":40,"v":0.05},{"c":9,"r":40,"v":0.07},{"c":10,"r":40,"v":0.1},{"c":11,"r":40,"v":0.14},{"c":12,"r":40,"v":0.2},{"c":13,"r":40,"v":0.28},{"c":14,"r":40,"v":0.38},{"c":15,"r":40,"v":0.5},{"c":16,"r":40,"v":0.64},{"c":17,"r":40,"v":0.78},{"c":18,"r":40,"v":0.82},{"c":19,"r":40,"v":0.82},{"c":20,"r":40,"v":0.81},{"c":21,"r":40,"v":0.75},{"c":22,"r":40,"v":0.62},{"c":23,"r":40,"v":0.46},{"c":24,"r":40,"v":0.34},{"c":25,"r":40,"v":0.25},{"c":26,"r":40,"v":0.17},{"c":27,"r":40,"v":0.12},{"c":28,"r":40,"v":0.09},{"c":29,"r":40,"v":0.06},{"c":30,"r":40,"v":0.05},
{"c":8,"r":41,"v":0.05},{"c":9,"r":41,"v":0.06},{"c":10,"r":41,"v":0.08},{"c":11,"r":41,"v":0.11},{"c":12,"r":41,"v":0.16},{"c":13,"r":41,"v":0.22},{"c":14,"r":41,"v":0.3},{"c":15,"r":41,"v":0.4},{"c":16,"r":41,"v":0.5},{"c":17,"r":41,"v":0.58},{"c":18,"r":41,"v":0.62},{"c":19,"r":41,"v":0.62},{"c":20,"r":41,"v":0.6},{"c":21,"r":41,"v":0.55},{"c":22,"r":41,"v":0.47},{"c":23,"r":41,"v":0.36},{"c":24,"r":41,"v":0.26},{"c":25,"r":41,"v":0.19},{"c":26,"r":41,"v":0.14},{"c":27,"r":41,"v":0.1},{"c":28,"r":41,"v":0.07},{"c":29,"r":41,"v":0.05},
{"c":9,"r":42,"v":0.05},{"c":10,"r":42,"v":0.06},{"c":11,"r":42,"v":0.09},{"c":12,"r":42,"v":0.12},{"c":13,"r":42,"v":0.17},{"c":14,"r":42,"v":0.23},{"c":15,"r":42,"v":0.3},{"c":16,"r":42,"v":0.37},{"c":17,"r":42,"v":0.42},{"c":18,"r":42,"v":0.46},{"c":19,"r":42,"v":0.46},{"c":20,"r":42,"v":0.44},{"c":21,"r":42,"v":0.4},{"c":22,"r":42,"v":0.34},{"c":23,"r":42,"v":0.27},{"c":24,"r":42,"v":0.2},{"c":25,"r":42,"v":0.14},{"c":26,"r":42,"v":0.1},{"c":27,"r":42,"v":0.07},{"c":28,"r":42,"v":0.05},
{"c":10,"r":43,"v":0.05},{"c":11,"r":43,"v":0.07},{"c":12,"r":43,"v":0.09},{"c":13,"r":43,"v":0.13},{"c":14,"r":43,"v":0.17},{"c":15,"r":43,"v":0.22},{"c":16,"r":43,"v":0.27},{"c":17,"r":43,"v":0.3},{"c":18,"r":43,"v":0.32},{"c":19,"r":43,"v":0.32},{"c":20,"r":43,"v":0.31},{"c":21,"r":43,"v":0.28},{"c":22,"r":43,"v":0.24},{"c":23,"r":43,"v":0.19},{"c":24,"r":43,"v":0.14},{"c":25,"r":43,"v":0.1},{"c":26,"r":43,"v":0.07},{"c":27,"r":43,"v":0.05},
{"c":11,"r":44,"v":0.05},{"c":12,"r":44,"v":0.07},{"c":13,"r":44,"v":0.09},{"c":14,"r":44,"v":0.12},{"c":15,"r":44,"v":0.15},{"c":16,"r":44,"v":0.18},{"c":17,"r":44,"v":0.2},{"c":18,"r":44,"v":0.21},{"c":19,"r":44,"v":0.21},{"c":20,"r":44,"v":0.2},{"c":21,"r":44,"v":0.18},{"c":22,"r":44,"v":0.16},{"c":23,"r":44,"v":0.12},{"c":24,"r":44,"v":0.09},{"c":25,"r":44,"v":0.07},{"c":26,"r":44,"v":0.05},
{"c":12,"r":45,"v":0.05},{"c":13,"r":45,"v":0.06},{"c":14,"r":45,"v":0.08},{"c":15,"r":45,"v":0.1},{"c":16,"r":45,"v":0.12},{"c":17,"r":45,"v":0.13},{"c":18,"r":45,"v":0.14},{"c":19,"r":45,"v":0.14},{"c":20,"r":45,"v":0.13},{"c":21,"r":45,"v":0.12},{"c":22,"r":45,"v":0.1},{"c":23,"r":45,"v":0.08},{"c":24,"r":45,"v":0.06},{"c":25,"r":45,"v":0.05},
{"c":14,"r":46,"v":0.05},{"c":15,"r":46,"v":0.06},{"c":16,"r":46,"v":0.08},{"c":17,"r":46,"v":0.09},{"c":18,"r":46,"v":0.09},{"c":19,"r":46,"v":0.09},{"c":20,"r":46,"v":0.09},{"c":21,"r":46,"v":0.08},{"c":22,"r":46,"v":0.06},{"c":23,"r":46,"v":0.05},
{"c":17,"r":47,"v":0.05},{"c":18,"r":47,"v":0.06},{"c":19,"r":47,"v":0.06},{"c":20,"r":47,"v":0.05}
]},"mark":{"type":"rect","width":11.6,"height":11.6,"opacity":1,"strokeWidth":0},"encoding":{"color":{"field":"v","type":"quantitative","legend":null,"scale":{"interpolate":"rgb","domain":[0,0.51,1.02,1.36],"range":["#000000","#ff0000","#ffff00","#ffffff"]}}}},{"data":{"values":[{"o":1,"c":25.65,"r":10.5},{"o":2,"c":26.85,"r":11.5},{"o":3,"c":28.97,"r":11.6},{"o":4,"c":30.07,"r":12.44},{"o":5,"c":31.45,"r":12.72},{"o":6,"c":31.64,"r":13.46},{"o":7,"c":31.64,"r":19.93},{"o":8,"c":29.33,"r":22.6},{"o":9,"c":25.93,"r":22.6},{"o":10,"c":25,"r":21.68},{"o":11,"c":22.52,"r":22.7},{"o":12,"c":21.6,"r":24},{"o":13,"c":21.6,"r":24.92},{"o":14,"c":20.59,"r":26.12},{"o":15,"c":20.59,"r":28.15},{"o":16,"c":21.78,"r":28.89},{"o":17,"c":21.78,"r":30.74},{"o":18,"c":23.63,"r":32.86},{"o":19,"c":23.63,"r":37.02},{"o":20,"c":22.52,"r":37.85},{"o":21,"c":22.24,"r":39.52},{"o":22,"c":17,"r":39.52},{"o":23,"c":14.69,"r":37.2},{"o":24,"c":14.6,"r":36},{"o":25,"c":13.68,"r":35.36},{"o":26,"c":13.5,"r":33.97},{"o":27,"c":12.58,"r":32.86},{"o":28,"c":12.39,"r":30.92},{"o":29,"c":11.47,"r":30},{"o":30,"c":11.47,"r":25.19},{"o":31,"c":12.76,"r":22.7},{"o":32,"c":13.77,"r":20.85},{"o":33,"c":16.44,"r":16.14},{"o":34,"c":18.84,"r":13.46},{"o":35,"c":22.24,"r":12.07},{"o":36,"c":24.09,"r":11.33},{"o":37,"c":24.82,"r":10.59},{"o":38,"c":25.65,"r":10.5}]},"mark":{"type":"line","color":"#fff4e8","strokeWidth":4,"strokeJoin":"round"},"encoding":{"order":{"field":"o","type":"quantitative"}}},{"data":{"values":[{"c":15.61,"r":19.09,"s":"*"},{"c":14.6,"r":26.21,"s":"*"},{"c":18.65,"r":36.1,"s":"*"},{"c":24.64,"r":17.06,"s":"*"}]},"mark":{"type":"text","font":"Liberation Sans","fontWeight":"bold","fontSize":24,"dy":5,"color":"#000"},"encoding":{"text":{"field":"s"}}}]},{"width":49,"height":541,"view":{"stroke":"#222","strokeWidth":1.5},"encoding":{"x":{"field":"a","type":"quantitative","scale":{"domain":[0,1],"nice":false,"zero":false},"axis":null},"x2":{"field":"b"}},"layer":[{"data":{"values":[{"a":0,"b":1,"v":-0.015,"w":0.04},{"a":0,"b":1,"v":0.02,"w":0.07},{"a":0,"b":1,"v":0.04,"w":0.09},{"a":0,"b":1,"v":0.06,"w":0.11},{"a":0,"b":1,"v":0.08,"w":0.13},{"a":0,"b":1,"v":0.1,"w":0.15},{"a":0,"b":1,"v":0.12,"w":0.17},{"a":0,"b":1,"v":0.14,"w":0.19},{"a":0,"b":1,"v":0.16,"w":0.21},{"a":0,"b":1,"v":0.18,"w":0.23},{"a":0,"b":1,"v":0.2,"w":0.25},{"a":0,"b":1,"v":0.22,"w":0.27},{"a":0,"b":1,"v":0.24,"w":0.29},{"a":0,"b":1,"v":0.26,"w":0.31},{"a":0,"b":1,"v":0.28,"w":0.33},{"a":0,"b":1,"v":0.3,"w":0.35},{"a":0,"b":1,"v":0.32,"w":0.37},{"a":0,"b":1,"v":0.34,"w":0.39},{"a":0,"b":1,"v":0.36,"w":0.41},{"a":0,"b":1,"v":0.38,"w":0.43},{"a":0,"b":1,"v":0.4,"w":0.45},{"a":0,"b":1,"v":0.42,"w":0.47},{"a":0,"b":1,"v":0.44,"w":0.49},{"a":0,"b":1,"v":0.46,"w":0.51},{"a":0,"b":1,"v":0.48,"w":0.53},{"a":0,"b":1,"v":0.5,"w":0.55},{"a":0,"b":1,"v":0.52,"w":0.57},{"a":0,"b":1,"v":0.54,"w":0.59},{"a":0,"b":1,"v":0.56,"w":0.61},{"a":0,"b":1,"v":0.58,"w":0.63},{"a":0,"b":1,"v":0.6,"w":0.65},{"a":0,"b":1,"v":0.62,"w":0.67},{"a":0,"b":1,"v":0.64,"w":0.69},{"a":0,"b":1,"v":0.66,"w":0.71},{"a":0,"b":1,"v":0.68,"w":0.73},{"a":0,"b":1,"v":0.7,"w":0.75},{"a":0,"b":1,"v":0.72,"w":0.77},{"a":0,"b":1,"v":0.74,"w":0.79},{"a":0,"b":1,"v":0.76,"w":0.81},{"a":0,"b":1,"v":0.78,"w":0.83},{"a":0,"b":1,"v":0.8,"w":0.85},{"a":0,"b":1,"v":0.82,"w":0.87},{"a":0,"b":1,"v":0.84,"w":0.89},{"a":0,"b":1,"v":0.86,"w":0.91},{"a":0,"b":1,"v":0.88,"w":0.93},{"a":0,"b":1,"v":0.9,"w":0.95},{"a":0,"b":1,"v":0.92,"w":0.97},{"a":0,"b":1,"v":0.94,"w":0.99},{"a":0,"b":1,"v":0.96,"w":1.01},{"a":0,"b":1,"v":0.98,"w":1.03},{"a":0,"b":1,"v":1,"w":1.05},{"a":0,"b":1,"v":1.02,"w":1.07},{"a":0,"b":1,"v":1.04,"w":1.09},{"a":0,"b":1,"v":1.06,"w":1.11},{"a":0,"b":1,"v":1.08,"w":1.13},{"a":0,"b":1,"v":1.1,"w":1.15},{"a":0,"b":1,"v":1.12,"w":1.17},{"a":0,"b":1,"v":1.14,"w":1.19},{"a":0,"b":1,"v":1.16,"w":1.21},{"a":0,"b":1,"v":1.18,"w":1.23},{"a":0,"b":1,"v":1.2,"w":1.25},{"a":0,"b":1,"v":1.22,"w":1.27},{"a":0,"b":1,"v":1.24,"w":1.29},{"a":0,"b":1,"v":1.26,"w":1.31},{"a":0,"b":1,"v":1.28,"w":1.33},{"a":0,"b":1,"v":1.3,"w":1.35},{"a":0,"b":1,"v":1.32,"w":1.366},{"a":0,"b":1,"v":1.34,"w":1.366},{"a":0,"b":1,"v":1.36,"w":1.366}]},"mark":{"type":"rect","opacity":1,"strokeWidth":0},"encoding":{"y":{"field":"v","type":"quantitative","scale":{"domain":[-0.015,1.366],"nice":false,"zero":false},"axis":{"orient":"right","values":[0,0.2,0.4,0.6,0.8,1,1.2],"labelExpr":"''+datum.value","title":null,"grid":false,"domain":false,"ticks":false,"labelFont":"Liberation Sans","labelFontWeight":"bold","labelFontSize":19,"labelColor":"#111","labelPadding":5}},"y2":{"field":"w"},"color":{"field":"v","type":"quantitative","legend":null,"scale":{"interpolate":"rgb","domain":[0,0.51,1.02,1.36],"range":["#000000","#ff0000","#ffff00","#ffffff"]}}}},{"data":{"values":[{"t":0,"a":0,"b":0.1},{"t":0.2,"a":0,"b":0.1},{"t":0.4,"a":0,"b":0.1},{"t":0.6,"a":0,"b":0.1},{"t":0.8,"a":0,"b":0.1},{"t":1,"a":0,"b":0.1},{"t":1.2,"a":0,"b":0.1},{"t":0,"a":0.9,"b":1},{"t":0.2,"a":0.9,"b":1},{"t":0.4,"a":0.9,"b":1},{"t":0.6,"a":0.9,"b":1},{"t":0.8,"a":0.9,"b":1},{"t":1,"a":0.9,"b":1},{"t":1.2,"a":0.9,"b":1}]},"mark":{"type":"rule","color":"#222","strokeWidth":1.5},"encoding":{"y":{"field":"t","type":"quantitative"}}}]}]}
